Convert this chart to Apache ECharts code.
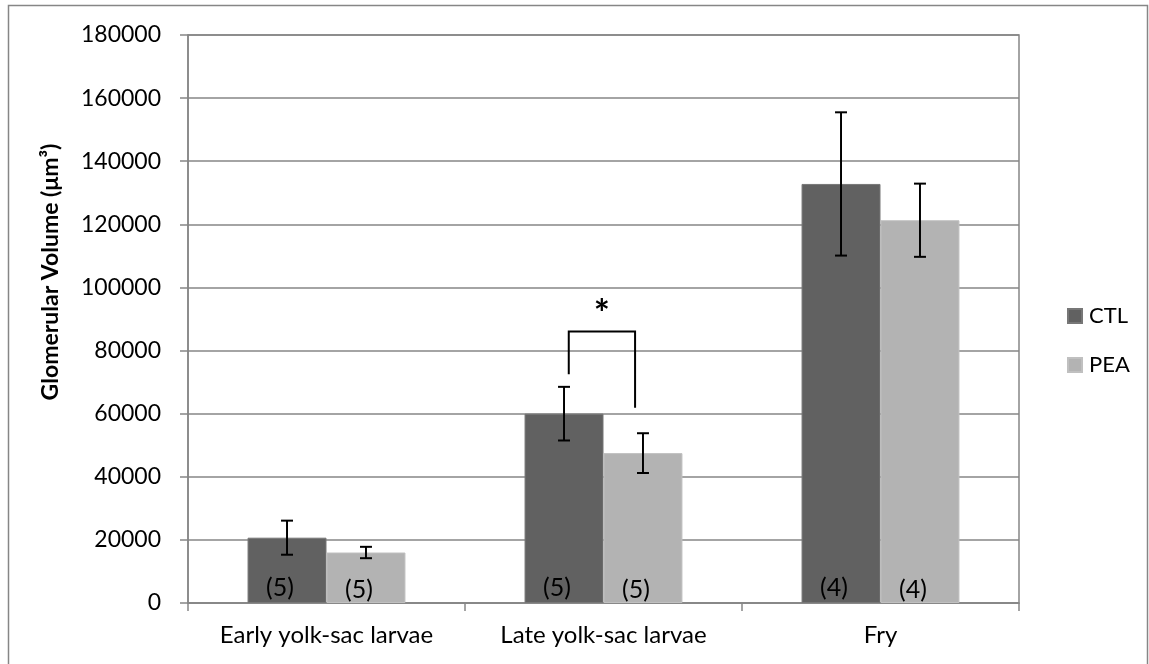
<!DOCTYPE html>
<html>
<head>
<meta charset="utf-8">
<script src="https://cdn.jsdelivr.net/npm/echarts@6/dist/echarts.min.js"></script>
<style>html,body{margin:0;padding:0;background:#fff;}#c{width:1149px;height:664px;}</style>
</head>
<body>
<div id="c"></div>
<script>
var categories = ['Early yolk-sac larvae', 'Late yolk-sac larvae', 'Fry'];
var seriesNames = ['CTL', 'PEA'];
var ctlValues = [20700, 60000, 132800];
var peaValues = [16000, 47500, 121300];
var ctlErrors = [5400, 8500, 22700];
var peaErrors = [1800, 6300, 11600];
var ctlCounts = ['(5)', '(5)', '(4)'];
var peaCounts = ['(5)', '(5)', '(4)'];
var yTicks = [0, 20000, 40000, 60000, 80000, 100000, 120000, 140000, 160000, 180000];
var bracketCategory = 1;
var bracketValues = [72500, 86000, 61900]; // left foot, top, right foot
var starValue = 91500;
var starText = '*';

var FONT = 'Lato';
var GRID_COLOR = '#868686';
var CAT_GAP = 0.43;

var chart = echarts.init(document.getElementById('c'), null, {renderer: 'canvas'});

function barWidthPx(api) {
  return api.size([1, 0])[0] * (1 - CAT_GAP) / 2;
}

function errorRender(values, errors, side) {
  return function (params, api) {
    var i = api.value(0);
    var bw = barWidthPx(api);
    var c = api.coord([i, values[i]]);
    var x = c[0] + side * bw / 2;
    var top = api.coord([i, values[i] + errors[i]])[1];
    var bot = api.coord([i, values[i] - errors[i]])[1];
    var cap = 6;
    var st = {stroke: '#000', lineWidth: 2};
    return {
      type: 'group',
      children: [
        {type: 'line', shape: {x1: x, y1: top, x2: x, y2: bot}, style: st},
        {type: 'line', shape: {x1: x - cap, y1: top, x2: x + cap, y2: top}, style: st},
        {type: 'line', shape: {x1: x - cap, y1: bot, x2: x + cap, y2: bot}, style: st}
      ]
    };
  };
}

var option = {
  backgroundColor: '#fff',
  animation: false,
  grid: {left: 188, right: 130, top: 35, bottom: 61, show: true, borderColor: GRID_COLOR, borderWidth: 1.5, backgroundColor: 'transparent'},
  legend: {
    orient: 'vertical', left: 1062, top: 300,
    itemWidth: 14, itemHeight: 14, itemGap: 27,
    icon: 'rect',
    data: seriesNames,
    textStyle: {fontFamily: FONT, fontSize: 22, color: '#000', padding: [0, 0, 0, 2]}
  },
  xAxis: {
    type: 'category',
    data: categories,
    axisLine: {lineStyle: {color: GRID_COLOR, width: 1.5}},
    axisTick: {show: true, length: 8, lineStyle: {color: GRID_COLOR, width: 1.5}},
    axisLabel: {interval: 0, fontFamily: FONT, fontSize: 24, color: '#000', margin: 20}
  },
  yAxis: {
    type: 'value',
    min: 0, max: 180000, interval: 20000,
    axisLine: {show: true, lineStyle: {color: GRID_COLOR, width: 1.5}},
    axisTick: {show: true, length: 8, lineStyle: {color: GRID_COLOR, width: 1.5}},
    splitLine: {show: true, lineStyle: {color: GRID_COLOR, width: 1.5}},
    axisLabel: {
      fontFamily: FONT, fontSize: 23, color: '#000', margin: 27,
      formatter: function (v) { return yTicks.indexOf(v) >= 0 ? String(v) : ''; }
    }
  },
  series: [
    {
      name: 'CTL', type: 'bar', data: ctlValues,
      barGap: '0%', barCategoryGap: (CAT_GAP * 100) + '%',
      itemStyle: {color: '#616161', borderColor: '#777777', borderWidth: 1},
      label: {show: true, position: 'insideBottom', distance: 3, offset: [-7, 0],
        fontFamily: FONT, fontSize: 25, color: '#000',
        formatter: function (p) { return ctlCounts[p.dataIndex]; }}
    },
    {
      name: 'PEA', type: 'bar', data: peaValues,
      barGap: '0%', barCategoryGap: (CAT_GAP * 100) + '%',
      itemStyle: {color: '#b3b3b3', borderColor: '#c0c0c0', borderWidth: 1},
      label: {show: true, position: 'insideBottom', distance: 1, offset: [-7, 0],
        fontFamily: FONT, fontSize: 25, color: '#000',
        formatter: function (p) { return peaCounts[p.dataIndex]; }}
    },
    {
      type: 'custom', name: 'ctlErr', data: categories.map(function (c, i) { return [i]; }),
      renderItem: errorRender(ctlValues, ctlErrors, -1), z: 5, silent: true
    },
    {
      type: 'custom', name: 'peaErr', data: categories.map(function (c, i) { return [i]; }),
      renderItem: errorRender(peaValues, peaErrors, 1), z: 5, silent: true
    },
    {
      type: 'custom', name: 'sig', data: [[bracketCategory]], z: 6, silent: true,
      renderItem: function (params, api) {
        var i = api.value(0);
        var bw = barWidthPx(api);
        var cx = api.coord([i, 0])[0];
        var xl = cx - 0.44 * bw;
        var xr = cx + 0.40 * bw;
        var yl = api.coord([i, bracketValues[0]])[1];
        var yt = api.coord([i, bracketValues[1]])[1];
        var yr = api.coord([i, bracketValues[2]])[1];
        var ys = api.coord([i, starValue])[1];
        return {
          type: 'group',
          children: [
            {type: 'polyline', shape: {points: [[xl, yl], [xl, yt], [xr, yt], [xr, yr]]},
              style: {stroke: '#000', lineWidth: 2, fill: null}},
            {type: 'text', style: {text: starText, x: (xl + xr) / 2, y: ys, align: 'center', verticalAlign: 'middle',
              font: 'bold 38px ' + FONT, fill: '#000'}}
          ]
        };
      }
    }
  ],
  graphic: [
    {type: 'rect', shape: {x: 8.5, y: 5.5, width: 1139, height: 670}, style: {fill: null, stroke: GRID_COLOR, lineWidth: 1.5}, silent: true},
    {type: 'text', x: 51, y: 272, rotation: Math.PI / 2,
      style: {text: 'Glomerular Volume (μm³)', align: 'center', verticalAlign: 'middle',
        font: 'bold 23px ' + FONT, fill: '#000'}}
  ]
};
chart.setOption(option);
</script>
</body>
</html>
